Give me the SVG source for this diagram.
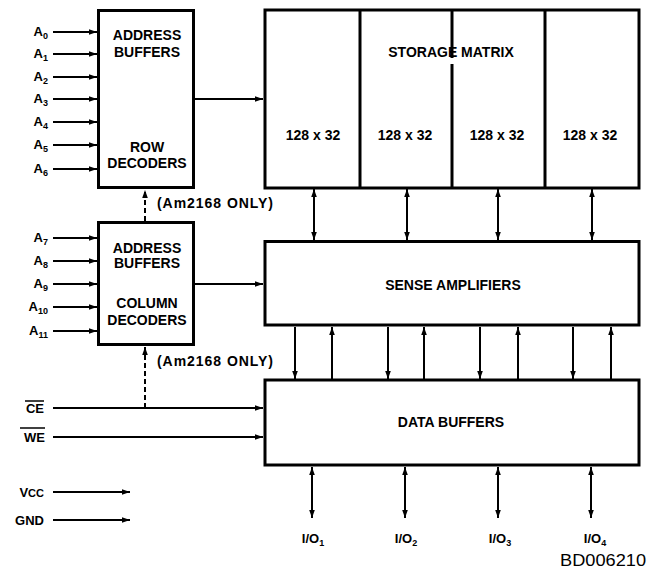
<svg xmlns="http://www.w3.org/2000/svg" width="647" height="569" viewBox="0 0 647 569">
<defs>
<marker id="ah" markerUnits="userSpaceOnUse" markerWidth="9" markerHeight="6" refX="8" refY="3" orient="auto-start-reverse">
<path d="M0,0.2 L8,3 L0,5.8 z" fill="#000"/>
</marker>
</defs>
<style>
.box{fill:#fff;stroke:#000;stroke-width:3}
.div{stroke:#000;stroke-width:3;fill:none}
.t{font-family:"Liberation Sans",Arial,sans-serif;font-weight:bold;font-size:14px;fill:#000;text-anchor:middle}
.lb{font-family:"Liberation Sans",Arial,sans-serif;font-weight:bold;font-size:13px;fill:#000;text-anchor:end}
.io{font-family:"Liberation Sans",Arial,sans-serif;font-weight:bold;font-size:13px;fill:#000;text-anchor:middle}
.c{stroke:#000;stroke-width:2;fill:none;marker-end:url(#ah)}
.d{stroke:#000;stroke-width:2;fill:none;marker-start:url(#ah);marker-end:url(#ah)}
.dash{stroke:#000;stroke-width:2;fill:none;stroke-dasharray:5,3;marker-end:url(#ah)}
.ol{stroke:#000;stroke-width:1.5}
</style>

<g id="connectors">
<line class="c" x1="53" y1="32" x2="97" y2="32"/>
<line class="c" x1="53" y1="54" x2="97" y2="54"/>
<line class="c" x1="53" y1="77" x2="97" y2="77"/>
<line class="c" x1="53" y1="99" x2="97" y2="99"/>
<line class="c" x1="53" y1="122" x2="97" y2="122"/>
<line class="c" x1="53" y1="145" x2="97" y2="145"/>
<line class="c" x1="53" y1="169" x2="97" y2="169"/>
<line class="c" x1="53" y1="238" x2="97" y2="238"/>
<line class="c" x1="53" y1="261" x2="97" y2="261"/>
<line class="c" x1="53" y1="284" x2="97" y2="284"/>
<line class="c" x1="53" y1="307" x2="97" y2="307"/>
<line class="c" x1="53" y1="331" x2="97" y2="331"/>
<line class="c" x1="195" y1="99" x2="263" y2="99"/>
<line class="c" x1="195" y1="284" x2="263" y2="284"/>
<line class="dash" x1="145" y1="221" x2="145" y2="190"/>
<line class="dash" x1="145" y1="408" x2="145" y2="347"/>
<line class="c" x1="53" y1="408" x2="263" y2="408"/>
<line class="c" x1="53" y1="437" x2="263" y2="437"/>
<line class="c" x1="53" y1="492" x2="130" y2="492"/>
<line class="c" x1="53" y1="520" x2="130" y2="520"/>
<line class="d" x1="314" y1="189" x2="314" y2="240"/>
<line class="d" x1="407" y1="189" x2="407" y2="240"/>
<line class="d" x1="498" y1="189" x2="498" y2="240"/>
<line class="d" x1="592" y1="189" x2="592" y2="240"/>
<line class="c" x1="295" y1="327" x2="295" y2="379"/>
<line class="c" x1="332" y1="379" x2="332" y2="327"/>
<line class="c" x1="388" y1="327" x2="388" y2="379"/>
<line class="c" x1="424" y1="379" x2="424" y2="327"/>
<line class="c" x1="480" y1="327" x2="480" y2="379"/>
<line class="c" x1="518" y1="379" x2="518" y2="327"/>
<line class="c" x1="573" y1="327" x2="573" y2="379"/>
<line class="c" x1="611" y1="379" x2="611" y2="327"/>
<line class="d" x1="312" y1="467" x2="312" y2="518"/>
<line class="d" x1="405" y1="467" x2="405" y2="518"/>
<line class="d" x1="498" y1="467" x2="498" y2="518"/>
<line class="d" x1="591" y1="467" x2="591" y2="518"/>
</g>

<g id="row-decoders">
<rect class="box" x="98.5" y="10.5" width="95" height="177"/>
<text class="t" x="147" y="40">ADDRESS</text>
<text class="t" x="147" y="57">BUFFERS</text>
<text class="t" x="147" y="152">ROW</text>
<text class="t" x="147" y="168">DECODERS</text>
</g>

<g id="column-decoders">
<rect class="box" x="98.5" y="222.5" width="95" height="122"/>
<text class="t" x="147" y="253">ADDRESS</text>
<text class="t" x="147" y="268">BUFFERS</text>
<text class="t" x="147" y="308">COLUMN</text>
<text class="t" x="147" y="325">DECODERS</text>
</g>

<g id="storage-matrix">
<rect class="box" x="265" y="10" width="374" height="178"/>
<line class="div" x1="360" y1="10" x2="360" y2="188"/>
<line class="div" x1="452" y1="10" x2="452" y2="58"/>
<line class="div" x1="452" y1="64" x2="452" y2="188"/>
<line class="div" x1="545" y1="10" x2="545" y2="188"/>
<text class="t" x="451" y="57">STORAGE MATRIX</text>
<text class="t" x="313" y="140">128 x 32</text>
<text class="t" x="405" y="140">128 x 32</text>
<text class="t" x="497" y="140">128 x 32</text>
<text class="t" x="590" y="140">128 x 32</text>
</g>

<g id="sense-amplifiers">
<rect class="box" x="265" y="241.5" width="374" height="83.5"/>
<text class="t" x="453" y="290">SENSE AMPLIFIERS</text>
</g>

<g id="data-buffers">
<rect class="box" x="265" y="380" width="374" height="85"/>
<text class="t" x="451" y="427">DATA BUFFERS</text>
</g>

<g id="labels">
<text class="lb" x="48" y="36">A<tspan font-size="9" dy="3">0</tspan></text>
<text class="lb" x="48" y="58">A<tspan font-size="9" dy="3">1</tspan></text>
<text class="lb" x="48" y="81">A<tspan font-size="9" dy="3">2</tspan></text>
<text class="lb" x="48" y="103">A<tspan font-size="9" dy="3">3</tspan></text>
<text class="lb" x="48" y="126">A<tspan font-size="9" dy="3">4</tspan></text>
<text class="lb" x="48" y="149">A<tspan font-size="9" dy="3">5</tspan></text>
<text class="lb" x="48" y="173">A<tspan font-size="9" dy="3">6</tspan></text>
<text class="lb" x="48" y="242">A<tspan font-size="9" dy="3">7</tspan></text>
<text class="lb" x="48" y="265">A<tspan font-size="9" dy="3">8</tspan></text>
<text class="lb" x="48" y="288">A<tspan font-size="9" dy="3">9</tspan></text>
<text class="lb" x="48" y="311">A<tspan font-size="9" dy="3">10</tspan></text>
<text class="lb" x="48" y="335">A<tspan font-size="9" dy="3">11</tspan></text>
<text class="t" x="215" y="208" textLength="116" lengthAdjust="spacing">(Am2168 ONLY)</text>
<text class="t" x="215" y="366" textLength="116" lengthAdjust="spacing">(Am2168 ONLY)</text>
<text class="lb" x="44" y="413">CE</text>
<line class="ol" x1="25" y1="401" x2="44" y2="401"/>
<text class="lb" x="45" y="442">WE</text>
<line class="ol" x1="20" y1="428" x2="45" y2="428"/>
<text class="lb" x="44" y="497">V<tspan font-size="11">CC</tspan></text>
<text class="lb" x="44" y="525">GND</text>
<text class="io" x="313" y="543">I/O<tspan font-size="9" dy="3">1</tspan></text>
<text class="io" x="406" y="543">I/O<tspan font-size="9" dy="3">2</tspan></text>
<text class="io" x="500" y="543">I/O<tspan font-size="9" dy="3">3</tspan></text>
<text class="io" x="595" y="543">I/O<tspan font-size="9" dy="3">4</tspan></text>
<text x="646" y="566" font-family="'Liberation Sans',Arial,sans-serif" font-size="17" text-anchor="end" textLength="86" lengthAdjust="spacingAndGlyphs">BD006210</text>
</g>
</svg>
